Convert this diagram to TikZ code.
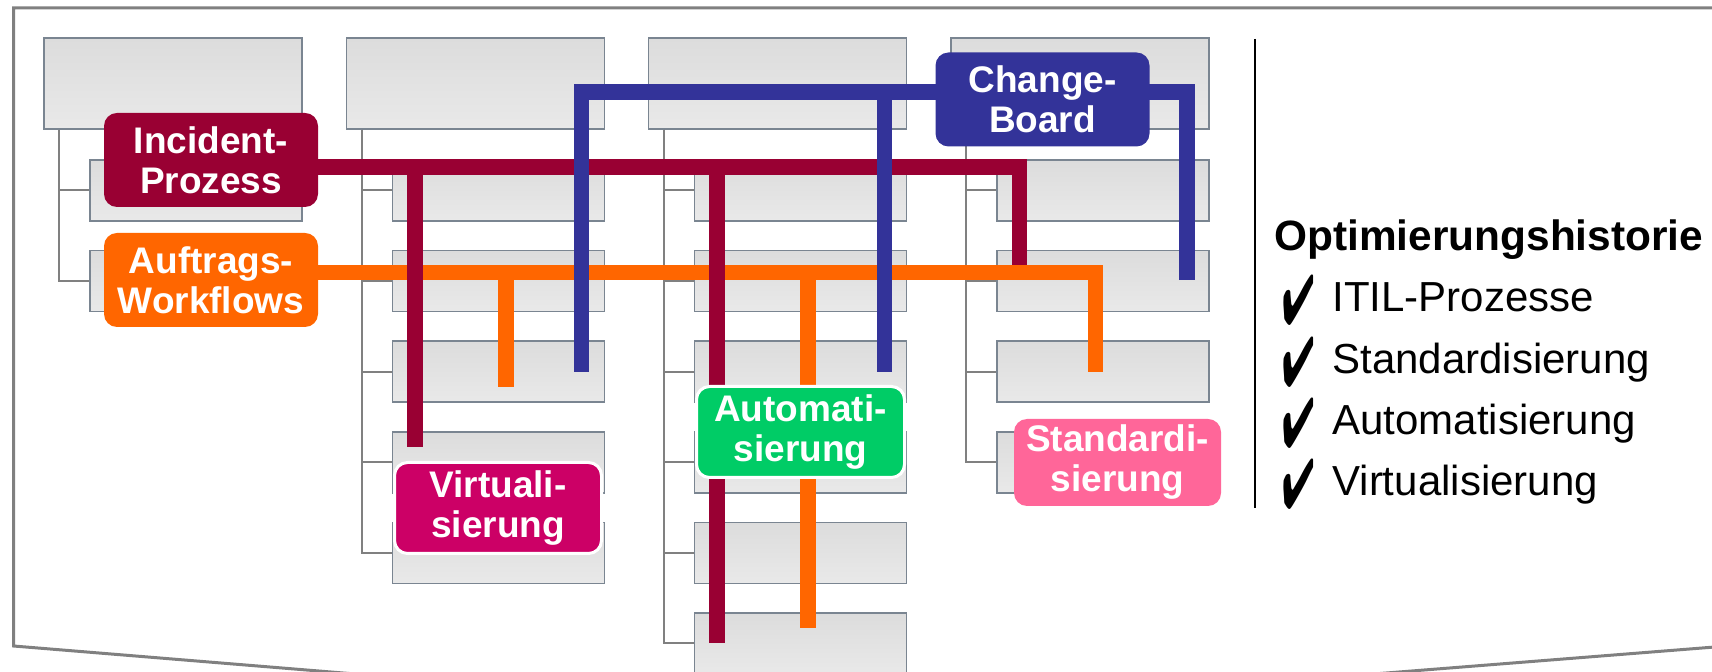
\documentclass[tikz,border=0pt]{standalone}
\usepackage{fontspec}
\setmainfont{Liberation Sans}
\usepackage{pifont}
\usetikzlibrary{backgrounds}
\definecolor{incred}{HTML}{990033}
\definecolor{aufor}{HTML}{FF6600}
\definecolor{chgblue}{HTML}{333399}
\definecolor{virtmag}{HTML}{CC0066}
\definecolor{autogreen}{HTML}{00CC66}
\definecolor{stdpink}{HTML}{FF6699}
\definecolor{boxline}{HTML}{7A8591}
\definecolor{treegray}{HTML}{808080}
\definecolor{boxtop}{HTML}{DCDCDC}
\definecolor{boxbot}{HTML}{E9E9E9}
\begin{document}
\begin{tikzpicture}[x=0.5pt,y=-0.5pt,
   gbox/.style={draw=boxline,line width=0.75pt,top color=boxtop,bottom color=boxbot,inner sep=0pt},
   tree/.style={draw=treegray,line width=1pt},
   wire/.style={line width=7.75pt,draw=#1,line join=miter},
   lab/.style={fill=#1,text=white,rounded corners=6.5pt,align=center,inner sep=0pt,
     minimum width=107pt,minimum height=47pt,font=\bfseries\fontsize{18.5}{20}\selectfont},
   rim/.style={draw=white,line width=1.5pt},
   item/.style={anchor=base west,inner sep=0pt,font=\fontsize{21}{24}\selectfont},
   tick/.style={anchor=base,inner sep=0pt,text height=22pt,text depth=0pt,font=\fontsize{27}{27}\selectfont}]
 \useasboundingbox (0,0) rectangle (1712,672);
 % labels
 \node[lab=incred] (inc) at (211,160) {Incident-\\Prozess};
 \node[lab=aufor] (auf) at (211,280) {Auftrags-\\Workflows};
 \node[lab=chgblue] (chg) at (1042.5,99.5) {Change-\\Board};
 \node[lab=virtmag,rim,minimum width=103.5pt,minimum height=45.5pt] (virt) at (498,508) {Virtuali-\\sierung};
 \node[lab=autogreen,rim,minimum width=104pt,minimum height=45.5pt] (auto) at (800.5,432) {Automati-\\sierung};
 \node[lab=stdpink,minimum width=103.5pt,minimum height=43.5pt] (std) at (1117.5,462.5) {Standardi-\\sierung};
 % wire levels and ends
 \coordinate (incL) at (0,167);
 \coordinate (incE) at (1019.5,265);
 \coordinate (incA) at (415,447);
 \coordinate (incB) at (717,643);
 \coordinate (aufL) at (0,272.5);
 \coordinate (aufE) at (1095.5,372);
 \coordinate (aufA) at (506,387);
 \coordinate (aufB) at (808,628);
 \coordinate (chgL) at (0,92);
 \coordinate (chgA) at (581.5,372);
 \coordinate (chgB) at (884.5,372);
 \coordinate (chgE) at (1187,280);
 \begin{scope}[on background layer]
  \begin{scope}
   \clip (0,0) rectangle (1712,672);
   \draw[treegray,line width=1.5pt] (1740,8) -- (13.5,8) -- (13.5,646) -- (856,715) -- (1740,645);
  \end{scope}
  \foreach \c/\n in {1/2,2/5,3/6,4/4}
  {\pgfmathsetmacro{\L}{44+302.3*(\c-1)}
   \node[gbox,minimum width=129pt,minimum height=45.5pt] (b\c-0) at (\L+129,83.5) {};
   \foreach \r in {1,...,\n}
   {\node[gbox,minimum width=106pt,minimum height=30.5pt] (b\c-\r) at (\L+152,{190.5+90.6*(\r-1)}) {};
    \draw[tree] ([xshift=8pt]b\c-0.south west) |- (b\c-\r.west);}
  }
  \draw[wire=aufor] (auf.center |- aufL) -| (aufE);
  \draw[wire=aufor] (aufA |- aufL) -- (aufA);
  \draw[wire=aufor] (aufB |- aufL) -- (aufB);
  \draw[wire=incred] (inc.center |- incL) -| (incE);
  \draw[wire=incred] (incA |- incL) -- (incA);
  \draw[wire=incred] (incB |- incL) -- (incB);
  \draw[wire=chgblue] (chgA) |- (chg.center |- chgL) -| (chgE);
  \draw[wire=chgblue] (chgB |- chgL) -- (chgB);
 \end{scope}
 % history list
 \draw[line width=1pt] (1255,39) -- (1255,508);
 \node[anchor=base west,inner sep=0pt,font=\bfseries\fontsize{21.2}{24}\selectfont] (hist) at (1274,251) {Optimierungshistorie};
 \foreach \t [count=\i] in {ITIL-Prozesse,Standardisierung,Automatisierung,Virtualisierung}
 {\node[item] (it\i) at (1332,{312+61.2*(\i-1)}) {\t};
  \node[tick] (tk\i) at (1299,{325+61.2*(\i-1)}) {\scalebox{0.71}[1.3]{\ding{52}}};}
\end{tikzpicture}
\end{document}
